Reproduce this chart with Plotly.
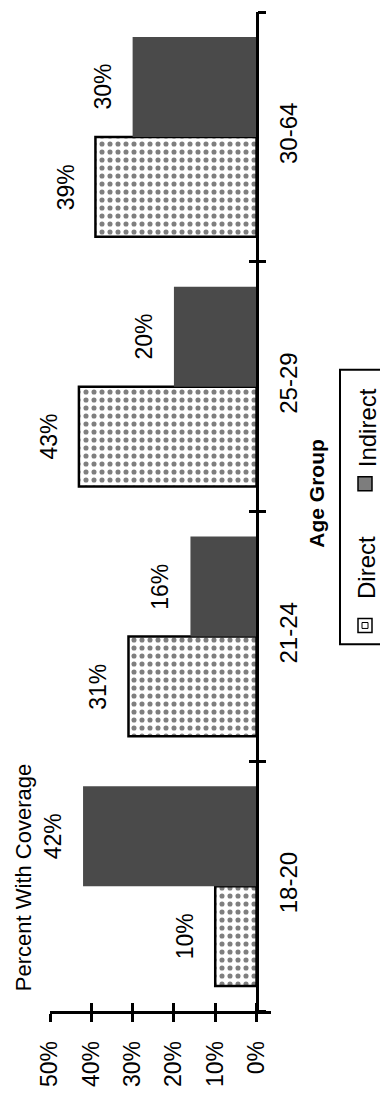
import plotly.graph_objects as go

# Data: share of people with health coverage, by age group and source
categories = ["18-20", "21-24", "25-29", "30-64"]
direct = [10, 31, 43, 39]
indirect = [42, 16, 20, 30]
tick_values = [0, 10, 20, 30, 40, 50]
tick_labels = ["0%", "10%", "20%", "30%", "40%", "50%"]

FONT = "Liberation Sans, Arial, sans-serif"
W, H = 380, 1099
ML, MR, MT, MB = 50, 109, 12, 79
X_RANGE = [50, -3.5]
BARGAP = 0.2

plot_w = W - ML - MR
plot_h = H - MT - MB


def px_x(px):
    """Convert a pixel column to paper x."""
    return (px - ML) / plot_w


def px_y(py):
    """Convert a pixel row to paper y."""
    return (H - MB - py) / plot_h


# y axis sits at value 0 of the reversed x range
zero_pos = (X_RANGE[0] - 0) / (X_RANGE[0] - X_RANGE[1])

fig = go.Figure()
fig.add_trace(go.Bar(
    y=categories, x=direct, orientation="h", name="Direct",
    marker=dict(
        color="white",
        line=dict(color="black", width=2.5),
        pattern=dict(shape=".", fgcolor="black", bgcolor="white",
                     size=8, solidity=0.32),
    ),
    hoverinfo="skip",
))
fig.add_trace(go.Bar(
    y=categories, x=indirect, orientation="h", name="Indirect",
    marker=dict(color="#4a4a4a", line=dict(color="#4a4a4a", width=0)),
    hoverinfo="skip",
))
# empty trace so the overlaid tick-only axes get drawn
fig.add_trace(go.Scatter(
    x=[None], y=[None], xaxis="x2", yaxis="y2", mode="markers",
    showlegend=False, hoverinfo="skip",
))

# value labels, rotated to read upward, just beyond each bar end
off = (1 - BARGAP) / 4
annotations = []
for i, cat in enumerate(categories):
    for vals, shift in ((direct, -off), (indirect, off)):
        annotations.append(dict(
            x=vals[i], y=i + shift, xref="x", yref="y",
            text=f"{vals[i]}%", textangle=-90, showarrow=False,
            xanchor="right", yanchor="middle", xshift=-15,
            font=dict(family=FONT, size=23, color="black"),
        ))

annotations += [
    dict(x=px_x(23), y=px_y(886), xref="paper", yref="paper",
         text="Percent With Coverage", textangle=-90, showarrow=False,
         xanchor="center", yanchor="middle",
         font=dict(family=FONT, size=22, color="black")),
    dict(x=px_x(317), y=px_y(498), xref="paper", yref="paper",
         text="<b>Age Group</b>", textangle=-90, showarrow=False,
         xanchor="center", yanchor="middle",
         font=dict(family=FONT, size=21, color="black")),
    dict(x=px_x(367), y=px_y(432), xref="paper", yref="paper",
         text="Indirect", textangle=-90, showarrow=False,
         xanchor="center", yanchor="middle",
         font=dict(family=FONT, size=24, color="black")),
    dict(x=px_x(367), y=px_y(573), xref="paper", yref="paper",
         text="Direct", textangle=-90, showarrow=False,
         xanchor="center", yanchor="middle",
         font=dict(family=FONT, size=24, color="black")),
]

shapes = [
    # legend frame
    dict(type="rect", xref="paper", yref="paper",
         x0=px_x(340), x1=px_x(400), y0=px_y(650), y1=px_y(373),
         line=dict(color="black", width=2), fillcolor="rgba(0,0,0,0)"),
    # Indirect swatch
    dict(type="rect", xref="paper", yref="paper",
         x0=px_x(358), x1=px_x(372), y0=px_y(495), y1=px_y(481),
         line=dict(color="black", width=1.5), fillcolor="#7d7d7d"),
    # Direct swatch
    dict(type="rect", xref="paper", yref="paper",
         x0=px_x(358), x1=px_x(372), y0=px_y(638), y1=px_y(624),
         line=dict(color="black", width=1.5), fillcolor="white"),
    dict(type="rect", xref="paper", yref="paper",
         x0=px_x(362), x1=px_x(368), y0=px_y(634), y1=px_y(628),
         line=dict(color="black", width=1), fillcolor="white"),
]

axis_common = dict(showgrid=False, zeroline=False, tickcolor="black",
                   tickwidth=2.5, ticklen=8)

fig.update_layout(
    width=W, height=H,
    margin=dict(l=ML, r=MR, t=MT, b=MB, pad=0),
    paper_bgcolor="white", plot_bgcolor="white",
    barmode="group", bargap=BARGAP, bargroupgap=0,
    showlegend=False,
    font=dict(family=FONT, color="black"),
    xaxis=dict(
        range=X_RANGE, tickvals=tick_values, ticktext=tick_labels,
        ticks="outside", tickangle=-90, showline=True, linewidth=2.5,
        linecolor="black", tickfont=dict(family=FONT, size=23),
        ticklabelstandoff=10, **axis_common,
    ),
    xaxis2=dict(
        range=X_RANGE, tickvals=tick_values, ticks="inside",
        showticklabels=False, showline=False, overlaying="x",
        anchor="y2", side="bottom", **axis_common,
    ),
    yaxis=dict(
        type="category", categoryorder="array", categoryarray=categories,
        range=[-0.5, len(categories) - 0.5],
        side="right", anchor="free", position=zero_pos,
        ticks="outside", tickson="boundaries", tickangle=-90,
        showline=True, linewidth=2.5, linecolor="black",
        tickfont=dict(family=FONT, size=24), ticklabelstandoff=10,
        **axis_common,
    ),
    yaxis2=dict(
        type="linear", range=[-0.5, len(categories) - 0.5],
        tickvals=[i - 0.5 for i in range(len(categories) + 1)],
        ticks="inside", showticklabels=False, showline=False,
        overlaying="y", side="right", anchor="free", position=zero_pos,
        **axis_common,
    ),
    annotations=annotations,
    shapes=shapes,
)

fig.write_html("out.html")
